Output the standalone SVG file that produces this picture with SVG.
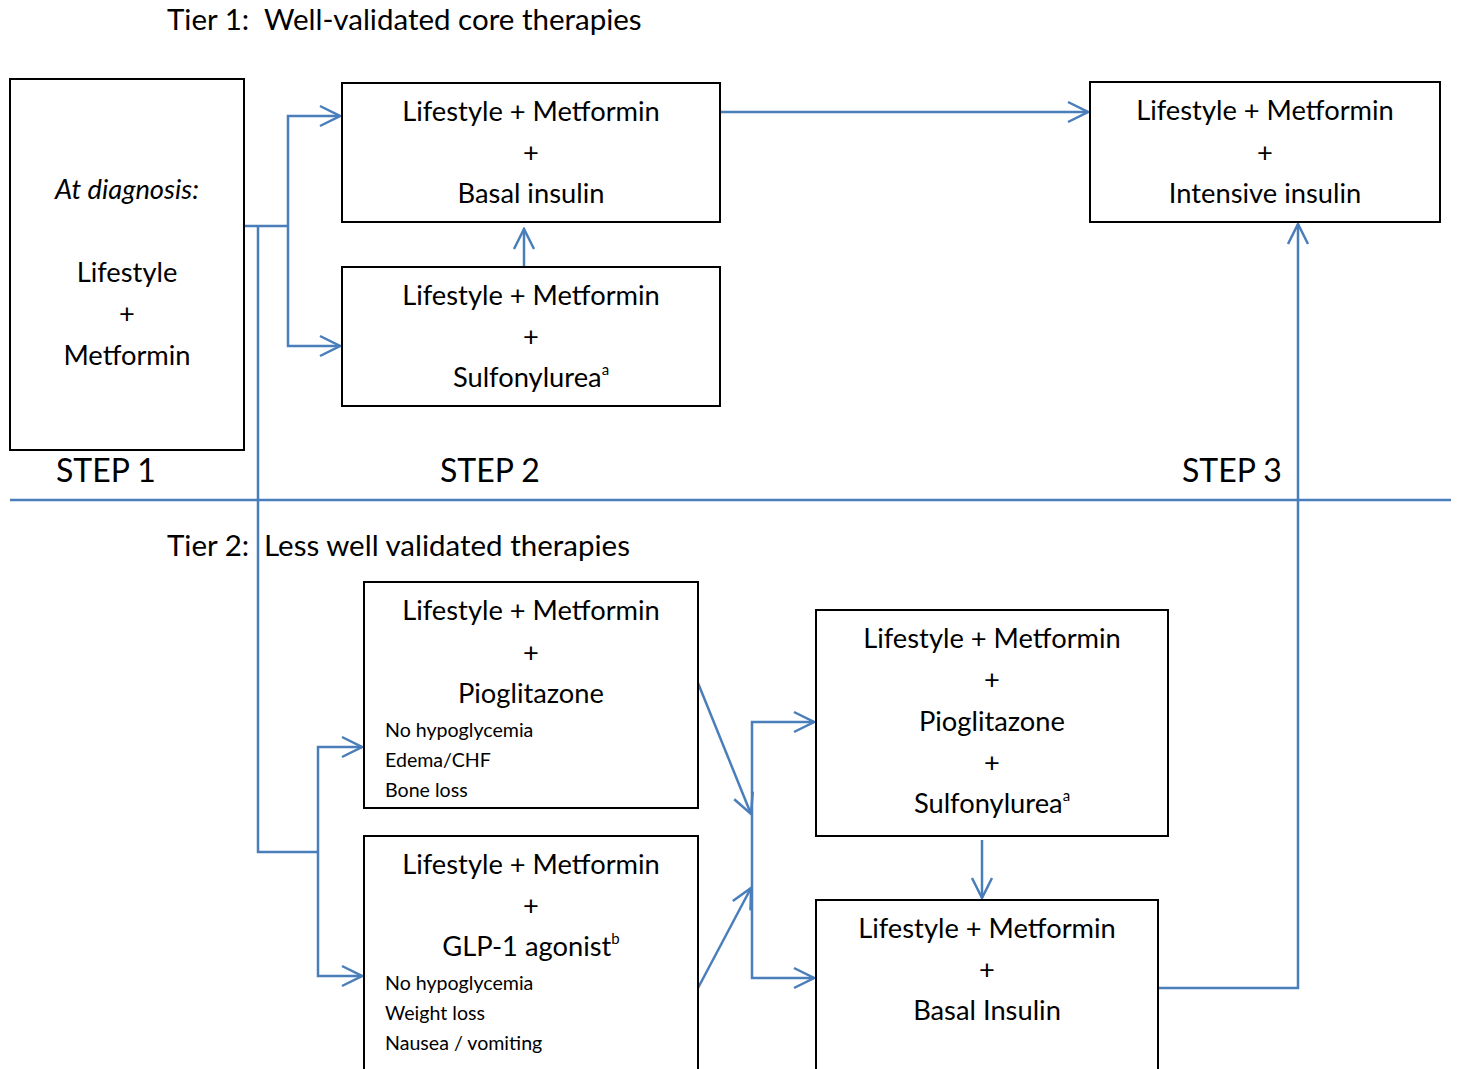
<svg xmlns="http://www.w3.org/2000/svg" width="1460" height="1069" viewBox="0 0 1460 1069">
<style>
  text { font-family: Lato, "Open Sans", "Liberation Sans", sans-serif; fill: #000; }
  .t { font-size: 27.3px; text-anchor: middle; }
  .s { font-size: 19.6px; }
  .h { font-size: 29.5px; }
  .st { font-size: 32px; }
  .box { fill: #fff; stroke: #000; stroke-width: 2; }
  .c { fill: none; stroke: #4a7ebb; stroke-width: 2.5; }
</style>
<defs>
  <marker id="ah" markerUnits="userSpaceOnUse" markerWidth="26" markerHeight="24" viewBox="0 0 26 24" refX="24" refY="12" orient="auto">
    <path d="M4,2 L24,12 L4,22" fill="none" stroke="#4a7ebb" stroke-width="2.5"/>
  </marker>
</defs>

<g id="labels">
  <text class="h" x="167" y="30">Tier 1:</text>
  <text class="h" x="264" y="30">Well-validated core therapies</text>
  <text class="h" x="167" y="556">Tier 2:</text>
  <text class="h" x="264" y="556">Less well validated therapies</text>
  <text class="st" x="56" y="482">STEP 1</text>
  <text class="st" x="440" y="482">STEP 2</text>
  <text class="st" x="1182" y="482">STEP 3</text>
</g>

<g id="connectors">
  <line class="c" x1="10" y1="500" x2="1451" y2="500"/>
  <polyline class="c" points="244,226 288,226"/>
  <polyline class="c" points="288,226 288,116 340,116" marker-end="url(#ah)"/>
  <polyline class="c" points="288,226 288,346 340,346" marker-end="url(#ah)"/>
  <polyline class="c" points="258,226 258,852 318,852"/>
  <polyline class="c" points="318,852 318,747 362,747" marker-end="url(#ah)"/>
  <polyline class="c" points="318,852 318,976 362,976" marker-end="url(#ah)"/>
  <line class="c" x1="524" y1="267" x2="524" y2="229" marker-end="url(#ah)"/>
  <line class="c" x1="720" y1="112" x2="1088" y2="112" marker-end="url(#ah)"/>
  <line class="c" x1="698" y1="683" x2="751" y2="814" marker-end="url(#ah)"/>
  <line class="c" x1="698" y1="988" x2="751" y2="888" marker-end="url(#ah)"/>
  <polyline class="c" points="752,800 752,722 814,722" marker-end="url(#ah)"/>
  <polyline class="c" points="752,800 752,978 814,978" marker-end="url(#ah)"/>
  <line class="c" x1="982" y1="840" x2="982" y2="898" marker-end="url(#ah)"/>
  <polyline class="c" points="1158,988 1298,988 1298,224" marker-end="url(#ah)"/>
</g>

<g id="n1">
  <rect class="box" x="10" y="79" width="234" height="371"/>
  <text class="t" x="127" y="199" font-style="italic">At diagnosis:</text>
  <text class="t" x="127" y="282">Lifestyle</text>
  <text class="t" x="127" y="323">+</text>
  <text class="t" x="127" y="365">Metformin</text>
</g>
<g id="n2">
  <rect class="box" x="342" y="83" width="378" height="139"/>
  <text class="t" x="531" y="121">Lifestyle + Metformin</text>
  <text class="t" x="531" y="162">+</text>
  <text class="t" x="531" y="203">Basal insulin</text>
</g>
<g id="n3">
  <rect class="box" x="342" y="267" width="378" height="139"/>
  <text class="t" x="531" y="305">Lifestyle + Metformin</text>
  <text class="t" x="531" y="346">+</text>
  <text class="t" x="531" y="387">Sulfonylurea<tspan font-size="15" dy="-12">a</tspan></text>
</g>
<g id="n4">
  <rect class="box" x="1090" y="82" width="350" height="140"/>
  <text class="t" x="1265" y="120">Lifestyle + Metformin</text>
  <text class="t" x="1265" y="162">+</text>
  <text class="t" x="1265" y="203">Intensive insulin</text>
</g>
<g id="n5">
  <rect class="box" x="364" y="582" width="334" height="226"/>
  <text class="t" x="531" y="620">Lifestyle + Metformin</text>
  <text class="t" x="531" y="662">+</text>
  <text class="t" x="531" y="703">Pioglitazone</text>
  <text class="s" x="385" y="737">No hypoglycemia</text>
  <text class="s" x="385" y="767">Edema/CHF</text>
  <text class="s" x="385" y="797">Bone loss</text>
</g>
<g id="n6">
  <rect class="box" x="364" y="836" width="334" height="240"/>
  <text class="t" x="531" y="874">Lifestyle + Metformin</text>
  <text class="t" x="531" y="915">+</text>
  <text class="t" x="531" y="956">GLP-1 agonist<tspan font-size="15" dy="-12">b</tspan></text>
  <text class="s" x="385" y="990">No hypoglycemia</text>
  <text class="s" x="385" y="1020">Weight loss</text>
  <text class="s" x="385" y="1050">Nausea / vomiting</text>
</g>
<g id="n7">
  <rect class="box" x="816" y="610" width="352" height="226"/>
  <text class="t" x="992" y="648">Lifestyle + Metformin</text>
  <text class="t" x="992" y="689">+</text>
  <text class="t" x="992" y="731">Pioglitazone</text>
  <text class="t" x="992" y="772">+</text>
  <text class="t" x="992" y="813">Sulfonylurea<tspan font-size="15" dy="-12">a</tspan></text>
</g>
<g id="n8">
  <rect class="box" x="816" y="900" width="342" height="176"/>
  <text class="t" x="987" y="938">Lifestyle + Metformin</text>
  <text class="t" x="987" y="979">+</text>
  <text class="t" x="987" y="1020">Basal Insulin</text>
</g>
</svg>
